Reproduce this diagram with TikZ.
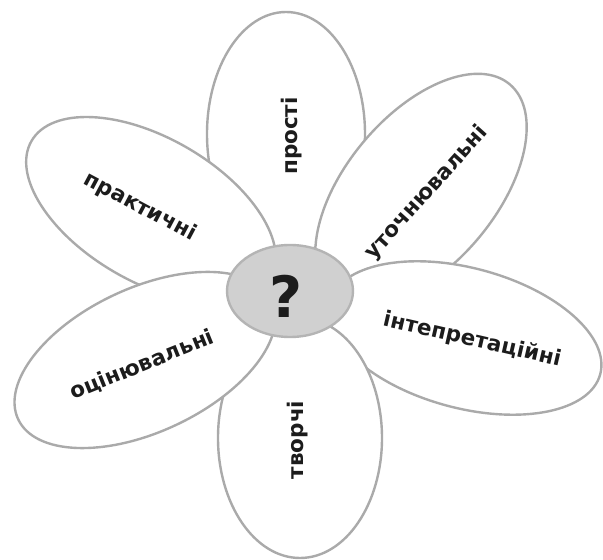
\documentclass[tikz,border=0pt]{standalone}
\usepackage{fontspec}
\setmainfont{DejaVu Sans}
\usepackage{tikz}
\usetikzlibrary{shapes.geometric}

\definecolor{petalline}{HTML}{AAAAAA}
\definecolor{coregray}{HTML}{D0D0D0}
\definecolor{coreline}{HTML}{B4B4B4}
\definecolor{inkdark}{HTML}{1C1C1C}

\begin{document}
\begin{tikzpicture}[x=1pt, y=1pt,
        petal/.style={ellipse, draw=petalline, line width=2.4pt, fill=white, inner sep=0pt},
        lbl/.style={font=\fontsize{21.5}{24}\selectfont\bfseries, text=inkdark, inner sep=0pt}]
            \useasboundingbox (0, 0) rectangle (603, 560);
            % petals, back to front
            \node [petal, minimum width=158, minimum height=244] (prosti) at (286, 426) {};
            \node [petal, minimum width=276, minimum height=144, rotate=-30] (prakt) at (151, 350) {};
            \node [petal, minimum width=276, minimum height=150, rotate=50] (utoch) at (421, 370) {};
            \node [petal, minimum width=280, minimum height=140, rotate=-15] (inter) at (465, 222) {};
            \node [petal, minimum width=164, minimum height=240] (tvor) at (300, 122) {};
            \node [petal, minimum width=280, minimum height=144, rotate=25] (otsin) at (145, 200) {};
            % centre
            \node [ellipse, draw=coreline, line width=2.4pt, fill=coregray, minimum width=126, minimum height=92] (core) at (290, 269) {};
            \node [lbl, font=\fontsize{57}{60}\selectfont\bfseries] (qmark) at (286, 264) {?};
            % labels
            \node [lbl, rotate=90] (tprosti) at (292, 424) {прості};
            \node [lbl, rotate=-28] (tprakt) at (140, 353) {практичні};
            \node [lbl, rotate=48] (tutoch) at (427, 367) {уточнювальні};
            \node [lbl, rotate=-13] (tinter) at (472, 220) {інтепретаційні};
            \node [lbl, rotate=90] (ttvor) at (298, 120) {творчі};
            \node [lbl, rotate=22] (totsin) at (142, 195) {оцінювальні};
        \end{tikzpicture}
\end{document}
